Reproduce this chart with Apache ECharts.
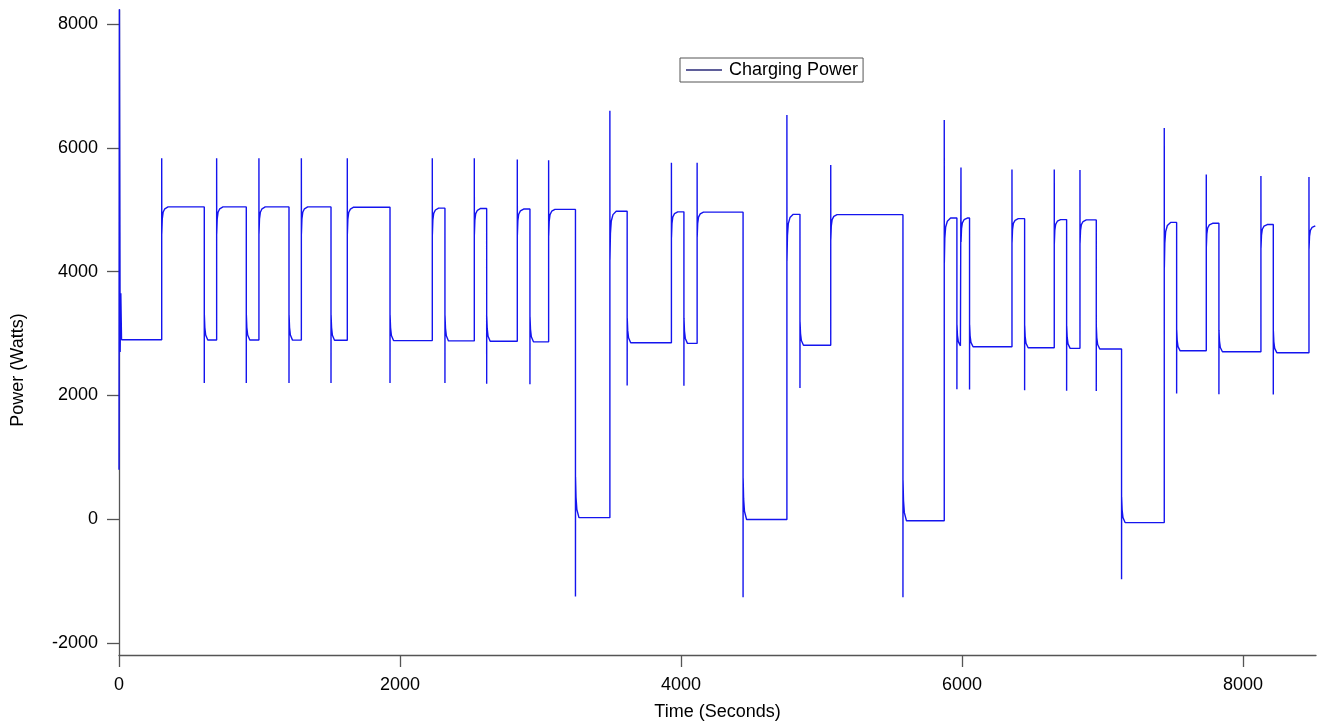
<!DOCTYPE html>
<html>
<head>
<meta charset="utf-8">
<script src="https://cdn.jsdelivr.net/npm/echarts@6/dist/echarts.min.js"></script>
<style>
html,body{margin:0;padding:0;background:#fff;}
#chart{width:1319px;height:723px;}
</style>
</head>
<body>
<div id="chart"></div>
<script>
// ---- data ----
const seriesName = 'Charging Power';
const xTitle = 'Time (Seconds)';
const yTitle = 'Power (Watts)';
const xTicks = [0, 2000, 4000, 6000, 8000];
const yTicks = [-2000, 0, 2000, 4000, 6000, 8000];

// start-up transient (time s, power W)
const startT = [0, 3, 8, 13, 18];
const startV = [800, 8400, 2700, 3650, 2900];

// step-ups: time, overshoot peak, dip after peak, settled level
const riseT     = [304, 695, 996, 1298, 1625, 2230, 2529, 2835, 3058, 3494, 3932, 4115, 4754, 5066, 5874, 5993, 6356, 6657, 6840, 7440, 7739, 8128, 8470];
const riseTop   = [5830, 5830, 5830, 5830, 5830, 5830, 5830, 5810, 5800, 6600, 5760, 5760, 6530, 5720, 6450, 5680, 5650, 5650, 5640, 6320, 5570, 5545, 5530];
const riseDip   = [4610, 4610, 4610, 4610, 4610, 4600, 4600, 4590, 4580, 4190, 4550, 4560, 4170, 4520, 4140, 4480, 4470, 4460, 4460, 4060, 4400, 4380, 4370];
const riseLevel = [5045, 5045, 5045, 5045, 5040, 5025, 5020, 5010, 5005, 4975, 4965, 4960, 4925, 4920, 4865, 4865, 4855, 4840, 4835, 4795, 4780, 4760, 4740];

// step-downs: time, undershoot low, rebound, settled level
const dropT       = [607, 906, 1210, 1509, 1929, 2320, 2617, 2925, 3249, 3617, 4021, 4442, 4847, 5580, 5964, 6054, 6446, 6745, 6956, 7136, 7528, 7829, 8216];
const dropLow     = [2200, 2200, 2200, 2200, 2200, 2200, 2190, 2180, -1250, 2160, 2155, -1260, 2120, -1260, 2100, 2095, 2085, 2075, 2070, -970, 2030, 2020, 2015];
const dropRebound = [3300, 3300, 3300, 3300, 3300, 3290, 3280, 3270, 680, 3250, 3240, 660, 3190, 630, 3140, 3140, 3130, 3120, 3110, 360, 3060, 3050, 3040];
const dropLevel   = [2895, 2895, 2893, 2890, 2885, 2880, 2875, 2865, 25, 2850, 2840, -5, 2810, -25, 2800, 2785, 2770, 2760, 2750, -55, 2720, 2705, 2690];

const endT = 8520;

// ---- path shape (style) ----
const riseKnee = [[0.5, 1], [4, 0.45], [10, 0.2], [22, 0.07], [45, 0]];
const dropKnee = [[0.5, 1], [4, 0.5], [10, 0.2], [25, 0]];

function buildPath() {
  const pts = [];
  for (let i = 0; i < startT.length; i++) pts.push([startT[i], startV[i]]);
  const ev = [];
  riseT.forEach((t, i) => ev.push({t, kind: 'r', a: riseTop[i], b: riseDip[i], lvl: riseLevel[i]}));
  dropT.forEach((t, i) => ev.push({t, kind: 'd', a: dropLow[i], b: dropRebound[i], lvl: dropLevel[i]}));
  ev.sort((p, q) => p.t - q.t);
  let cur = startV[startV.length - 1];
  ev.forEach(e => {
    pts.push([e.t, cur]);
    pts.push([e.t, e.a]);
    const knee = e.kind === 'r' ? riseKnee : dropKnee;
    knee.forEach(([dt, f]) => pts.push([e.t + dt, e.lvl + f * (e.b - e.lvl)]));
    cur = e.lvl;
  });
  pts.push([endT, cur]);
  return pts;
}

const FONT = 'Liberation Sans, Arial, Helvetica, sans-serif';
const plain = v => String(Math.round(v));
const chart = echarts.init(document.getElementById('chart'), null, {renderer: 'canvas'});
chart.setOption({
  animation: false,
  backgroundColor: '#ffffff',
  grid: {left: 119, right: 3, top: 10, bottom: 68, containLabel: false, outerBoundsMode: 'none'},
  graphic: [{
    type: 'text', x: 18, y: 370, rotation: Math.PI / 2,
    style: {text: yTitle, fontFamily: FONT, fontSize: 18, fill: '#000', align: 'center', verticalAlign: 'middle'}
  }],
  legend: {
    left: 680, top: 58,
    data: [{name: seriesName, itemStyle: {color: '#2a2a78'}}],
    icon: 'rect', itemWidth: 36, itemHeight: 1.5, itemGap: 0,
    padding: [3, 5, 3, 6],
    borderColor: '#555', borderWidth: 1, borderRadius: 0,
    backgroundColor: '#fff',
    textStyle: {fontFamily: FONT, fontSize: 18, color: '#000', padding: [0, 0, 0, 2]}
  },
  xAxis: {
    type: 'value', min: 0, max: endT,
    name: xTitle, nameLocation: 'middle', nameGap: 48,
    nameTextStyle: {fontFamily: FONT, fontSize: 18, color: '#000'},
    axisLine: {show: true, onZero: false, lineStyle: {color: '#555', width: 1.3}},
    axisTick: {show: true, length: 12, lineStyle: {color: '#555', width: 1.3}, customValues: xTicks},
    axisLabel: {fontFamily: FONT, fontSize: 18, color: '#000', margin: 21, customValues: xTicks, formatter: plain},
    splitLine: {show: false}
  },
  yAxis: {
    type: 'value', min: -2194, max: 8226,
    axisLine: {show: true, onZero: false, lineStyle: {color: '#555', width: 1.3}},
    axisTick: {show: true, length: 12, lineStyle: {color: '#555', width: 1.3}, customValues: yTicks},
    axisLabel: {fontFamily: FONT, fontSize: 18, color: '#000', margin: 21, customValues: yTicks, formatter: plain},
    splitLine: {show: false}
  },
  series: [{
    name: seriesName,
    type: 'line',
    data: buildPath(),
    showSymbol: false,
    symbol: 'none',
    clip: true,
    lineStyle: {color: '#1414ee', width: 1.4},
    itemStyle: {color: '#1414ee'},
    z: 3
  }]
});
</script>
</body>
</html>
